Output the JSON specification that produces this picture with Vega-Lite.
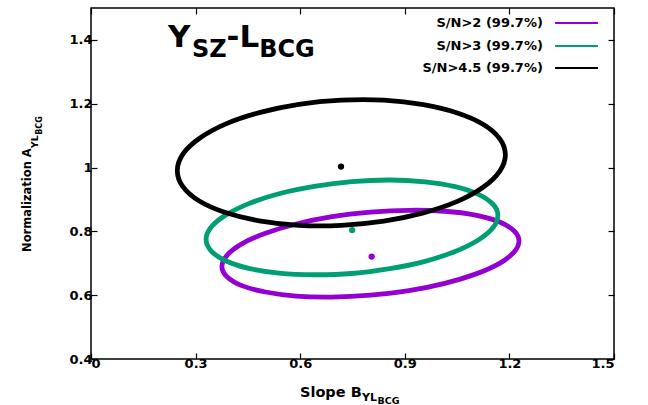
{
  "$schema": "https://vega.github.io/schema/vega-lite/v6.json",
  "width": 523,
  "height": 351,
  "autosize": "none",
  "padding": {"left": 91, "top": 8, "right": 34, "bottom": 46},
  "background": "white",
  "config": {
    "view": {"stroke": "black", "strokeWidth": 1.5},
    "axis": {"grid": false, "domain": false, "tickColor": "black", "tickSize": -6, "tickWidth": 1.2, "labelFont": "DejaVu Sans", "labelFontWeight": "bold", "labelFontSize": 13, "labelColor": "black", "labelPadding": 4, "title": null},
    "text": {"font": "DejaVu Sans", "fontWeight": "bold", "color": "black"}
  },
  "datasets": {
    "one": [{"k": 1}],
    "ellipses": [
      {"s":"S/N>2","t":0,"x":1.2275,"y":0.770},{"s":"S/N>2","t":1,"x":1.2130,"y":0.802},{"s":"S/N>2","t":2,"x":1.1704,"y":0.830},{"s":"S/N>2","t":3,"x":1.1027,"y":0.851},{"s":"S/N>2","t":4,"x":1.0145,"y":0.863},{"s":"S/N>2","t":5,"x":0.9117,"y":0.866},{"s":"S/N>2","t":6,"x":0.8015,"y":0.860},{"s":"S/N>2","t":7,"x":0.6913,"y":0.846},{"s":"S/N>2","t":8,"x":0.5885,"y":0.823},{"s":"S/N>2","t":9,"x":0.5003,"y":0.794},{"s":"S/N>2","t":10,"x":0.4326,"y":0.761},{"s":"S/N>2","t":11,"x":0.3900,"y":0.725},{"s":"S/N>2","t":12,"x":0.3755,"y":0.690},{"s":"S/N>2","t":13,"x":0.3900,"y":0.658},{"s":"S/N>2","t":14,"x":0.4326,"y":0.630},{"s":"S/N>2","t":15,"x":0.5003,"y":0.610},{"s":"S/N>2","t":16,"x":0.5885,"y":0.597},{"s":"S/N>2","t":17,"x":0.6913,"y":0.594},{"s":"S/N>2","t":18,"x":0.8015,"y":0.600},{"s":"S/N>2","t":19,"x":0.9117,"y":0.614},{"s":"S/N>2","t":20,"x":1.0145,"y":0.637},{"s":"S/N>2","t":21,"x":1.1027,"y":0.666},{"s":"S/N>2","t":22,"x":1.1704,"y":0.699},{"s":"S/N>2","t":23,"x":1.2130,"y":0.735},
      {"s":"S/N>3","t":0,"x":1.1670,"y":0.850},{"s":"S/N>3","t":1,"x":1.1527,"y":0.885},{"s":"S/N>3","t":2,"x":1.1109,"y":0.916},{"s":"S/N>3","t":3,"x":1.0444,"y":0.940},{"s":"S/N>3","t":4,"x":0.9578,"y":0.955},{"s":"S/N>3","t":5,"x":0.8568,"y":0.961},{"s":"S/N>3","t":6,"x":0.7485,"y":0.956},{"s":"S/N>3","t":7,"x":0.6402,"y":0.941},{"s":"S/N>3","t":8,"x":0.5392,"y":0.918},{"s":"S/N>3","t":9,"x":0.4526,"y":0.887},{"s":"S/N>3","t":10,"x":0.3861,"y":0.851},{"s":"S/N>3","t":11,"x":0.3443,"y":0.813},{"s":"S/N>3","t":12,"x":0.3300,"y":0.775},{"s":"S/N>3","t":13,"x":0.3443,"y":0.739},{"s":"S/N>3","t":14,"x":0.3861,"y":0.708},{"s":"S/N>3","t":15,"x":0.4526,"y":0.684},{"s":"S/N>3","t":16,"x":0.5392,"y":0.669},{"s":"S/N>3","t":17,"x":0.6402,"y":0.664},{"s":"S/N>3","t":18,"x":0.7485,"y":0.668},{"s":"S/N>3","t":19,"x":0.8568,"y":0.683},{"s":"S/N>3","t":20,"x":0.9578,"y":0.706},{"s":"S/N>3","t":21,"x":1.0444,"y":0.737},{"s":"S/N>3","t":22,"x":1.1109,"y":0.773},{"s":"S/N>3","t":23,"x":1.1527,"y":0.811},
      {"s":"S/N>4.5","t":0,"x":1.1885,"y":1.040},{"s":"S/N>4.5","t":1,"x":1.1725,"y":1.090},{"s":"S/N>4.5","t":2,"x":1.1255,"y":1.135},{"s":"S/N>4.5","t":3,"x":1.0507,"y":1.171},{"s":"S/N>4.5","t":4,"x":0.9533,"y":1.197},{"s":"S/N>4.5","t":5,"x":0.8398,"y":1.211},{"s":"S/N>4.5","t":6,"x":0.7180,"y":1.211},{"s":"S/N>4.5","t":7,"x":0.5962,"y":1.198},{"s":"S/N>4.5","t":8,"x":0.4827,"y":1.172},{"s":"S/N>4.5","t":9,"x":0.3853,"y":1.136},{"s":"S/N>4.5","t":10,"x":0.3105,"y":1.091},{"s":"S/N>4.5","t":11,"x":0.2635,"y":1.042},{"s":"S/N>4.5","t":12,"x":0.2475,"y":0.990},{"s":"S/N>4.5","t":13,"x":0.2635,"y":0.940},{"s":"S/N>4.5","t":14,"x":0.3105,"y":0.895},{"s":"S/N>4.5","t":15,"x":0.3853,"y":0.859},{"s":"S/N>4.5","t":16,"x":0.4827,"y":0.833},{"s":"S/N>4.5","t":17,"x":0.5962,"y":0.819},{"s":"S/N>4.5","t":18,"x":0.7180,"y":0.819},{"s":"S/N>4.5","t":19,"x":0.8398,"y":0.832},{"s":"S/N>4.5","t":20,"x":0.9533,"y":0.858},{"s":"S/N>4.5","t":21,"x":1.0507,"y":0.894},{"s":"S/N>4.5","t":22,"x":1.1255,"y":0.939},{"s":"S/N>4.5","t":23,"x":1.1725,"y":0.989}
    ],
    "centers": [
      {"s":"S/N>2","x":0.805,"y":0.721},
      {"s":"S/N>3","x":0.749,"y":0.804},
      {"s":"S/N>4.5","x":0.717,"y":1.003}
    ]
  },
  "resolve": {"axis": {"x": "independent", "y": "independent"}},
  "layer": [
    {
      "data": {"name": "ellipses"},
      "mark": {"type": "line", "interpolate": "cardinal-closed", "strokeWidth": 4.8, "strokeCap": "round", "strokeJoin": "round"},
      "encoding": {
        "x": {"field": "x", "type": "quantitative", "scale": {"domain": [0, 1.5], "nice": false, "zero": false}, "axis": {"orient": "bottom", "values": [0, 0.3, 0.6, 0.9, 1.2, 1.5], "format": "~g", "labelFontSize": 13, "labelFont": "DejaVu Sans", "labelFontWeight": "bold", "labelPadding": 4}},
        "y": {"field": "y", "type": "quantitative", "scale": {"domain": [0.4, 1.5], "nice": false, "zero": false}, "axis": {"orient": "left", "values": [0.4, 0.6, 0.8, 1.0, 1.2, 1.4], "format": "~g", "labelFontSize": 13, "labelFont": "DejaVu Sans", "labelFontWeight": "bold", "labelPadding": 5}},
        "color": {"field": "s", "type": "nominal", "scale": {"domain": ["S/N>2", "S/N>3", "S/N>4.5"], "range": ["#9400D3", "#009E73", "#000000"]}, "legend": null},
        "order": {"field": "t", "type": "quantitative"}
      }
    },
    {
      "data": {"name": "centers"},
      "mark": {"type": "point", "filled": true, "opacity": 1, "size": 40},
      "encoding": {
        "x": {"field": "x", "type": "quantitative", "axis": {"orient": "top", "values": [0, 0.3, 0.6, 0.9, 1.2, 1.5], "labels": false}},
        "y": {"field": "y", "type": "quantitative", "axis": {"orient": "right", "values": [0.4, 0.6, 0.8, 1.0, 1.2, 1.4], "labels": false}},
        "color": {"field": "s", "type": "nominal", "legend": null}
      }
    },
    {"data": {"name": "one"}, "mark": {"type": "text", "text": "Y", "fontSize": 31, "align": "left", "baseline": "alphabetic"},
     "encoding": {"x": {"datum": 0.2208, "type": "quantitative", "axis": null}, "y": {"datum": 1.378, "type": "quantitative", "axis": null}}},
    {"data": {"name": "one"}, "mark": {"type": "text", "text": "SZ", "fontSize": 24, "align": "left", "baseline": "alphabetic"},
     "encoding": {"x": {"datum": 0.2897, "type": "quantitative", "axis": null}, "y": {"datum": 1.3467, "type": "quantitative", "axis": null}}},
    {"data": {"name": "one"}, "mark": {"type": "text", "text": "-", "fontSize": 31, "align": "left", "baseline": "alphabetic"},
     "encoding": {"x": {"datum": 0.3889, "type": "quantitative", "axis": null}, "y": {"datum": 1.378, "type": "quantitative", "axis": null}}},
    {"data": {"name": "one"}, "mark": {"type": "text", "text": "L", "fontSize": 31, "align": "left", "baseline": "alphabetic"},
     "encoding": {"x": {"datum": 0.4259, "type": "quantitative", "axis": null}, "y": {"datum": 1.378, "type": "quantitative", "axis": null}}},
    {"data": {"name": "one"}, "mark": {"type": "text", "text": "BCG", "fontSize": 24, "align": "left", "baseline": "alphabetic"},
     "encoding": {"x": {"datum": 0.4824, "type": "quantitative", "axis": null}, "y": {"datum": 1.3467, "type": "quantitative", "axis": null}}},
    {"data": {"name": "one"}, "mark": {"type": "text", "text": "Normalization A", "fontSize": 11.5, "angle": 270, "align": "left", "baseline": "alphabetic"},
     "encoding": {"x": {"datum": -0.172, "type": "quantitative", "axis": null}, "y": {"datum": 0.7354, "type": "quantitative", "axis": null}}},
    {"data": {"name": "one"}, "mark": {"type": "text", "text": "YL", "fontSize": 9.5, "angle": 270, "align": "left", "baseline": "alphabetic"},
     "encoding": {"x": {"datum": -0.152, "type": "quantitative", "axis": null}, "y": {"datum": 1.0605, "type": "quantitative", "axis": null}}},
    {"data": {"name": "one"}, "mark": {"type": "text", "text": "BCG", "fontSize": 8, "angle": 270, "align": "left", "baseline": "alphabetic"},
     "encoding": {"x": {"datum": -0.1405, "type": "quantitative", "axis": null}, "y": {"datum": 1.1025, "type": "quantitative", "axis": null}}},
    {"data": {"name": "one"}, "mark": {"type": "text", "text": "Slope B", "fontSize": 14.5, "align": "left", "baseline": "alphabetic"},
     "encoding": {"x": {"datum": 0.5994, "type": "quantitative", "axis": null}, "y": {"datum": 0.2809, "type": "quantitative", "axis": null}}},
    {"data": {"name": "one"}, "mark": {"type": "text", "text": "YL", "fontSize": 11, "align": "left", "baseline": "alphabetic"},
     "encoding": {"x": {"datum": 0.7772, "type": "quantitative", "axis": null}, "y": {"datum": 0.2683, "type": "quantitative", "axis": null}}},
    {"data": {"name": "one"}, "mark": {"type": "text", "text": "BCG", "fontSize": 9.5, "align": "left", "baseline": "alphabetic"},
     "encoding": {"x": {"datum": 0.8216, "type": "quantitative", "axis": null}, "y": {"datum": 0.2605, "type": "quantitative", "axis": null}}},
    {"data": {"name": "one"}, "mark": {"type": "text", "text": "S/N>2 (99.7%)", "fontSize": 13, "align": "right", "baseline": "middle"},
     "encoding": {"x": {"datum": 1.296, "type": "quantitative", "axis": null}, "y": {"datum": 1.4533, "type": "quantitative", "axis": null}}},
    {"data": {"name": "one"}, "mark": {"type": "text", "text": "S/N>3 (99.7%)", "fontSize": 13, "align": "right", "baseline": "middle"},
     "encoding": {"x": {"datum": 1.296, "type": "quantitative", "axis": null}, "y": {"datum": 1.3812, "type": "quantitative", "axis": null}}},
    {"data": {"name": "one"}, "mark": {"type": "text", "text": "S/N>4.5 (99.7%)", "fontSize": 13, "align": "right", "baseline": "middle"},
     "encoding": {"x": {"datum": 1.296, "type": "quantitative", "axis": null}, "y": {"datum": 1.3122, "type": "quantitative", "axis": null}}},
    {"data": {"name": "one"}, "mark": {"type": "rule", "color": "#9400D3", "strokeWidth": 2},
     "encoding": {"x": {"datum": 1.331, "type": "quantitative", "axis": null}, "x2": {"datum": 1.454}, "y": {"datum": 1.4533, "type": "quantitative", "axis": null}}},
    {"data": {"name": "one"}, "mark": {"type": "rule", "color": "#009E73", "strokeWidth": 2},
     "encoding": {"x": {"datum": 1.331, "type": "quantitative", "axis": null}, "x2": {"datum": 1.454}, "y": {"datum": 1.3812, "type": "quantitative", "axis": null}}},
    {"data": {"name": "one"}, "mark": {"type": "rule", "color": "#000000", "strokeWidth": 2},
     "encoding": {"x": {"datum": 1.331, "type": "quantitative", "axis": null}, "x2": {"datum": 1.454}, "y": {"datum": 1.3122, "type": "quantitative", "axis": null}}}
  ]
}
